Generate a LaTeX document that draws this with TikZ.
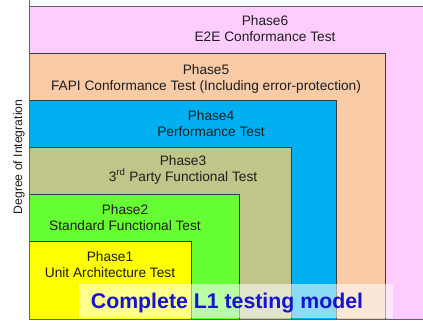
\documentclass[tikz,border=0pt]{standalone}
\usepackage{fontspec}
\setmainfont{Liberation Sans}
\definecolor{cSix}{RGB}{255,204,255}
\definecolor{cFive}{RGB}{248,203,166}
\definecolor{cFour}{RGB}{0,176,240}
\definecolor{cThree}{RGB}{192,198,138}
\definecolor{cTwo}{RGB}{102,255,51}
\definecolor{cOne}{RGB}{255,255,0}
\definecolor{ink}{RGB}{30,30,30}
\definecolor{frame}{RGB}{60,60,60}
\definecolor{banner}{RGB}{20,20,210}
\tikzset{
  phasebox/.style={draw=frame, line width=0.8pt, rectangle, anchor=north west, inner sep=0pt},
  phasetext/.style={align=center, text=ink, inner sep=0pt, font=\fontsize{13.7}{16}\selectfont},
  axisline/.style={draw=frame!80, line width=0.9pt}
}
\begin{document}
\begin{tikzpicture}[x=1pt, y=-1pt]
\useasboundingbox (0,0) rectangle (423,322);
% nested phase boxes, largest first
\fill[cSix] (29,6) rectangle (423,319);
\draw[frame!80, line width=0.8pt] (29,6) -- (423,6);
\node[phasebox, fill=cFive, minimum width=356pt, minimum height=266pt] (b5) at (29,53) {};
\node[phasebox, fill=cFour, minimum width=307pt, minimum height=219pt] (b4) at (29,100) {};
\node[phasebox, fill=cThree, minimum width=262pt, minimum height=172pt] (b3) at (29,147) {};
\node[phasebox, fill=cTwo, minimum width=210pt, minimum height=125pt] (b2) at (29,194) {};
\node[phasebox, fill=cOne, minimum width=162pt, minimum height=78pt] (b1) at (29,241) {};
% phase labels
\node[phasetext] (t6) at (265,28.5) {Phase6\\E2E Conformance Test};
\node[phasetext] (t5) at (206,78.5) {Phase5\\FAPI Conformance Test (Including error-protection)};
\node[phasetext] (t4) at (211,123.5) {Phase4\\Performance Test};
\node[phasetext] (t3) at (183,169.5) {Phase3\\3\textsuperscript{rd} Party Functional Test};
\node[phasetext] (t2) at (125,217.5) {Phase2\\Standard Functional Test};
\node[phasetext] (t1) at (110,264.5) {Phase1\\Unit Architecture Test};
% axes
\coordinate (origin) at (29,319);
\coordinate (ytop) at (29,0);
\coordinate (xend) at (423,319);
\draw[axisline] (ytop) -- (origin) -- (xend);
\node[rotate=90, text=ink, inner sep=0pt, font=\fontsize{12.2}{14}\selectfont] (ylab) at (19,157) {Degree of Integration};
% title banner
\fill[white, opacity=0.55] (79,284) rectangle (393,318);
\node[text=banner, inner sep=0pt, font=\fontsize{21.3}{24}\selectfont\bfseries] (title) at (227,303.5) {Complete L1 testing model};
\end{tikzpicture}
\end{document}
